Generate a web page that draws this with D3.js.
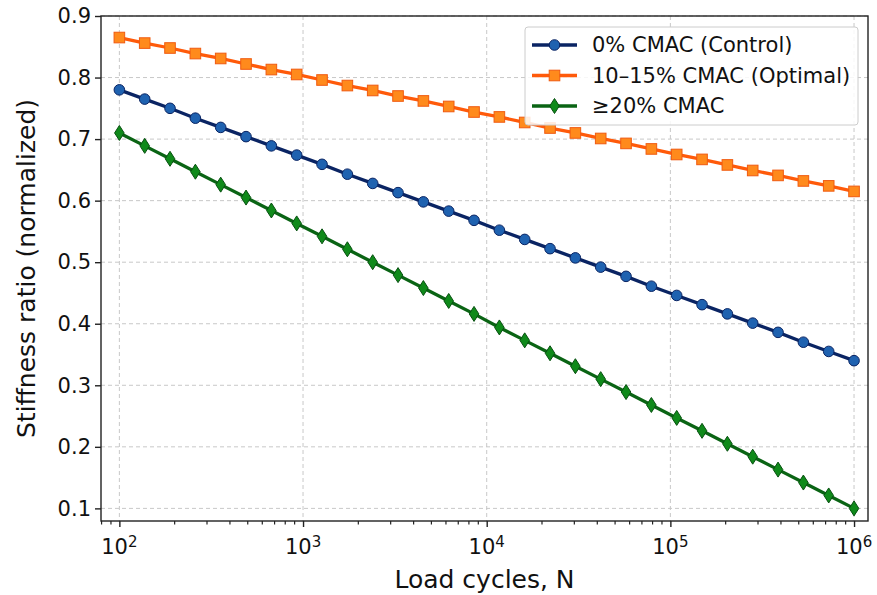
<!DOCTYPE html>
<html>
<head>
<meta charset="utf-8">
<script src="https://cdn.jsdelivr.net/npm/d3@7"></script>
<style>
  body { margin: 0; background: #fff; }
  text { font-family: "DejaVu Sans", sans-serif; fill: #111; }
</style>
</head>
<body>
<svg id="chart"></svg>
<script>
// load cycles (log spaced)
const cycles = [100, 137.4, 188.7, 259.3, 356.2, 489.4, 672.3, 923.7, 1268.9, 1743.3,
    2395, 3290.3, 4520.4, 6210.2, 8531.7, 11721, 16103, 22122, 30392, 41753,
    57362, 78805, 108264, 148735, 204336, 280722, 385662, 529832, 727895, 1000000];

const control = [0.780, 0.765, 0.750, 0.734, 0.719, 0.704, 0.689, 0.674, 0.659, 0.643,
    0.628, 0.613, 0.598, 0.583, 0.568, 0.552, 0.537, 0.522, 0.507, 0.492,
    0.477, 0.461, 0.446, 0.431, 0.416, 0.401, 0.386, 0.370, 0.355, 0.340];

const optimal = [0.865, 0.856, 0.848, 0.839, 0.831, 0.822, 0.813, 0.805, 0.796, 0.787,
    0.779, 0.770, 0.762, 0.753, 0.744, 0.736, 0.727, 0.718, 0.710, 0.701,
    0.693, 0.684, 0.675, 0.667, 0.658, 0.649, 0.641, 0.632, 0.624, 0.615];

const high = [0.710, 0.689, 0.668, 0.647, 0.626, 0.605, 0.584, 0.563, 0.542, 0.521,
    0.500, 0.479, 0.458, 0.437, 0.416, 0.394, 0.373, 0.352, 0.331, 0.310,
    0.289, 0.268, 0.247, 0.226, 0.205, 0.184, 0.163, 0.142, 0.121, 0.100];

const seriesNames = ["0% CMAC (Control)", "10\u201315% CMAC (Optimal)", "\u226520% CMAC"];
const xTicks = [1e2, 1e3, 1e4, 1e5, 1e6];
const yTicks = [0.1, 0.2, 0.3, 0.4, 0.5, 0.6, 0.7, 0.8, 0.9];

const W = 877, H = 595;
const margin = { top: 16, right: 9, bottom: 74, left: 101 };
const width = W - margin.left - margin.right,
    height = H - margin.top - margin.bottom;

const svg = d3.select("#chart").attr("width", W).attr("height", H);
const g = svg.append("g")
    .attr("transform", "translate(" + margin.left + "," + margin.top + ")");

const x = d3.scaleLog()
    .domain([Math.pow(10, 1.9), Math.pow(10, 6.076)])
    .range([0, width]);

const y = d3.scaleLinear()
    .domain([0.0795, 0.9])
    .range([height, 0]);

// grid
g.selectAll(".gx").data(xTicks).enter().append("line")
    .attr("x1", d => x(d)).attr("x2", d => x(d))
    .attr("y1", 0).attr("y2", height)
    .attr("stroke", "#c8c8c8").attr("stroke-dasharray", "4,3");
g.selectAll(".gy").data(yTicks).enter().append("line")
    .attr("x1", 0).attr("x2", width)
    .attr("y1", d => y(d)).attr("y2", d => y(d))
    .attr("stroke", "#c8c8c8").attr("stroke-dasharray", "4,3");

// series
const series = [
    { name: seriesNames[0], values: control, line: "#0a2463", fill: "#1f62b0", edge: "#0a2463", shape: "circle" },
    { name: seriesNames[1], values: optimal, line: "#ff5a0a", fill: "#ff8a1c", edge: "#f05a10", shape: "square" },
    { name: seriesNames[2], values: high, line: "#0a6414", fill: "#0f8a1a", edge: "#075010", shape: "diamond" }
];

const line = d3.line()
    .x((d, i) => x(cycles[i]))
    .y(d => y(d));

function marker(sel, s) {
    if (s.shape === "circle") {
        sel.append("circle").attr("r", 5.3);
    } else if (s.shape === "square") {
        sel.append("rect").attr("x", -5.3).attr("y", -5.3).attr("width", 10.6).attr("height", 10.6);
    } else {
        sel.append("path").attr("d", "M0,-7.5L4.8,0L0,7.5L-4.8,0Z");
    }
    sel.selectAll("*")
        .attr("fill", s.fill)
        .attr("stroke", s.edge)
        .attr("stroke-width", 1);
}

series.forEach(function (s) {
    g.append("path")
        .datum(s.values)
        .attr("fill", "none")
        .attr("stroke", s.line)
        .attr("stroke-width", 3.3)
        .attr("d", line);

    g.selectAll(null)
        .data(s.values)
        .enter().append("g")
        .attr("transform", (d, i) => "translate(" + x(cycles[i]) + "," + y(d) + ")")
        .each(function () { marker(d3.select(this), s); });
});

// axes
const xAxis = d3.axisBottom(x)
    .tickValues(xTicks)
    .tickSize(6)
    .tickFormat(() => "");
const gx = g.append("g")
    .attr("transform", "translate(0," + height + ")")
    .call(xAxis);

// minor ticks
const minor = [];
for (let e = 1; e <= 6; e++) {
    for (let m = 2; m <= 9; m++) {
        const v = m * Math.pow(10, e);
        if (v > x.domain()[0] && v < x.domain()[1]) minor.push(v);
    }
}
gx.selectAll(".minor").data(minor).enter().append("line")
    .attr("x1", d => x(d)).attr("x2", d => x(d))
    .attr("y1", 0).attr("y2", 3.5)
    .attr("stroke", "#222").attr("stroke-width", 1.2);

gx.selectAll(".tick line").attr("stroke", "#222").attr("stroke-width", 1.4);

// x tick labels 10^n
xTicks.forEach(function (t) {
    const txt = g.append("text")
        .attr("x", x(t))
        .attr("y", height + 33)
        .attr("text-anchor", "middle")
        .style("font-size", "21px");
    txt.append("tspan").text("10");
    txt.append("tspan")
        .attr("dy", "-0.45em")
        .style("font-size", "15px")
        .text(Math.round(Math.log10(t)));
});

const yAxis = d3.axisLeft(y)
    .tickValues(yTicks)
    .tickSize(6)
    .tickPadding(4)
    .tickFormat(d3.format(".1f"));
const gy = g.append("g").call(yAxis);
gy.selectAll(".tick line").attr("stroke", "#222").attr("stroke-width", 1.4);
gy.selectAll(".tick text").style("font-size", "21px").attr("fill", "#111");

g.selectAll(".domain").remove();

// frame
g.append("rect")
    .attr("x", 0).attr("y", 0)
    .attr("width", width).attr("height", height)
    .attr("fill", "none")
    .attr("stroke", "#222")
    .attr("stroke-width", 1.4);

// axis labels
svg.append("text")
    .attr("x", margin.left + width / 2)
    .attr("y", 588)
    .attr("text-anchor", "middle")
    .style("font-size", "25px")
    .text("Load cycles, N");

svg.append("text")
    .attr("transform", "translate(35," + (margin.top + height / 2) + ") rotate(-90)")
    .attr("text-anchor", "middle")
    .style("font-size", "25px")
    .text("Stiffness ratio (normalized)");

// legend
const legend = svg.append("g").attr("transform", "translate(525,27)");
legend.append("rect")
    .attr("width", 333).attr("height", 98)
    .attr("rx", 3)
    .attr("fill", "#fff")
    .attr("fill-opacity", 0.85)
    .attr("stroke", "#cccccc");

series.forEach(function (s, i) {
    const row = legend.append("g")
        .attr("transform", "translate(0," + (18 + i * 30.5) + ")");
    row.append("line")
        .attr("x1", 7).attr("x2", 52)
        .attr("stroke", s.line).attr("stroke-width", 3.3);
    const m = row.append("g").attr("transform", "translate(29.5,0)");
    marker(m, s);
    row.append("text")
        .attr("x", 67)
        .attr("dy", "0.35em")
        .style("font-size", "21px")
        .text(s.name);
});
</script>
</body>
</html>
